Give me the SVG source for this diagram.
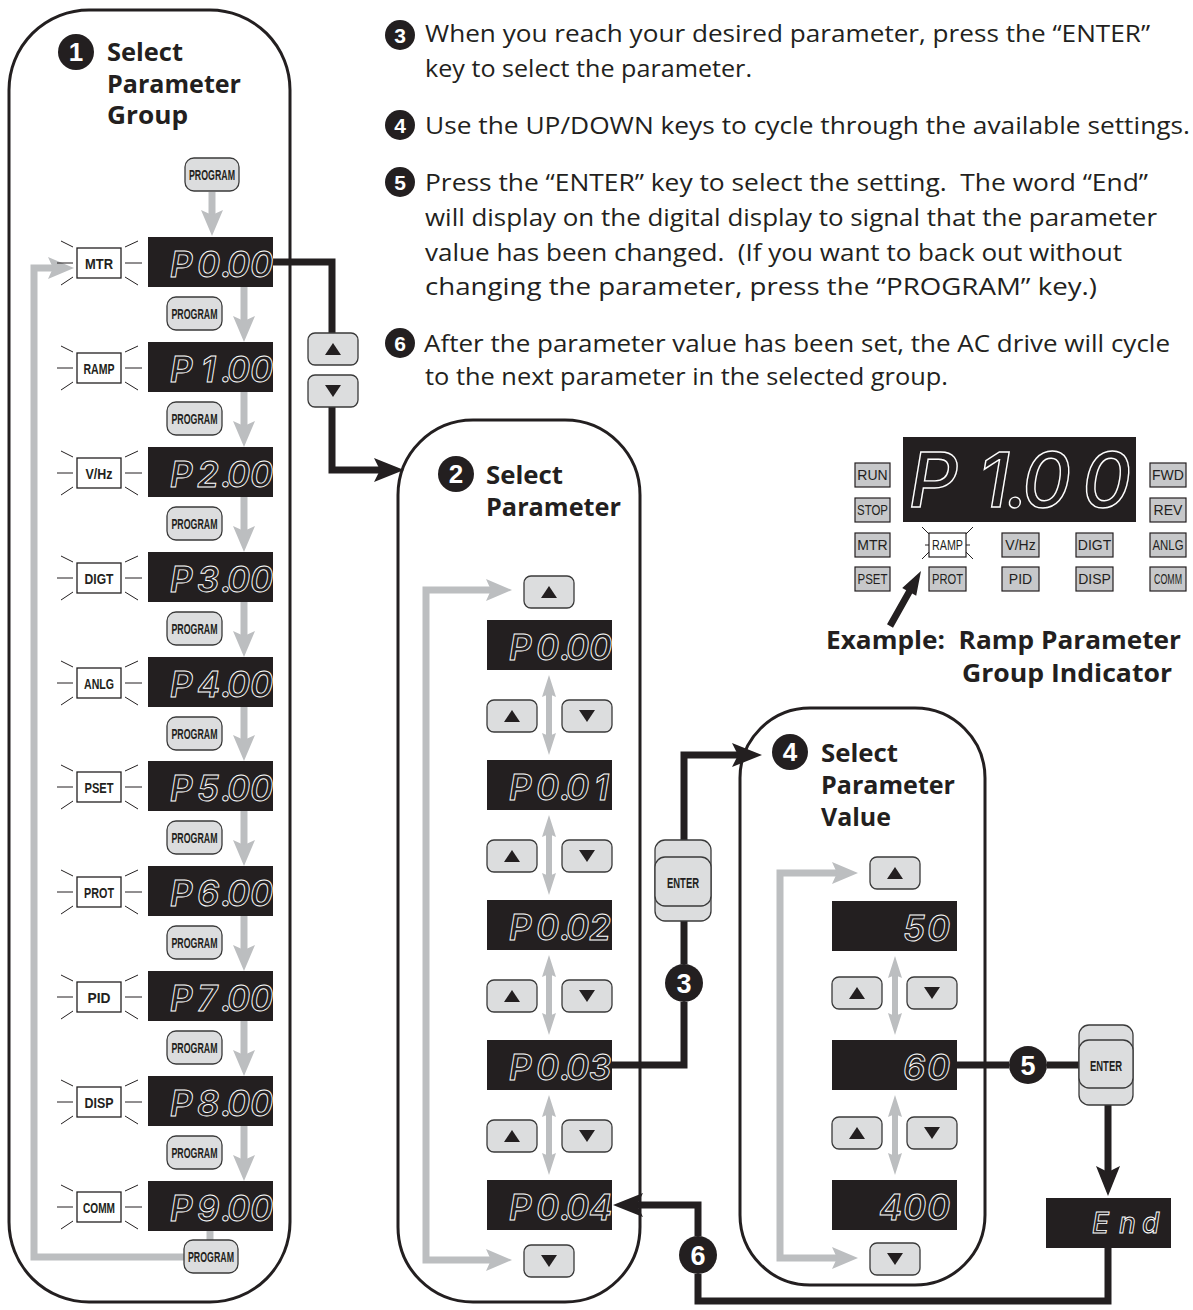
<svg xmlns="http://www.w3.org/2000/svg" xmlns:xlink="http://www.w3.org/1999/xlink" width="1193" height="1310" viewBox="0 0 1193 1310">
<style>
.panel{fill:#fff;stroke:#231f20;stroke-width:3}
.disp{fill:#231f20}
.seg{font-family:Inter,"DejaVu Sans",sans-serif;font-style:italic;font-weight:600;font-size:35px;fill:none;stroke:#fff;stroke-width:0.9}
.btn{fill:#dcddde;stroke:#3a3a3a;stroke-width:1.3}
.btxt{font-family:"Liberation Sans Narrow","Liberation Sans",Arial,sans-serif;font-weight:bold;font-size:14px;fill:#231f20;text-anchor:middle}
.lbl{fill:#fff;stroke:#231f20;stroke-width:1.3}
.ltxt{font-family:"Liberation Sans Narrow","Liberation Sans",Arial,sans-serif;font-weight:bold;font-size:15px;fill:#231f20;text-anchor:middle}
.ind{fill:#c7c8ca;stroke:#231f20;stroke-width:1.2}
.itxt{font-family:"Liberation Sans Narrow","Liberation Sans",Arial,sans-serif;font-size:14px;fill:#231f20;text-anchor:middle}
.ray{stroke:#231f20;stroke-width:1;fill:none}
.gray{stroke:#bcbec0;stroke-width:7;fill:none}
.gray2{stroke:#bcbec0;stroke-width:6;fill:none}
.blk{stroke:#231f20;stroke-width:7;fill:none;stroke-linejoin:miter}
.body{font-family:"Open Sans",Lato,sans-serif;font-size:24px;fill:#231f20;white-space:pre}
.title{font-family:"Open Sans",Lato,sans-serif;font-weight:bold;font-size:25px;fill:#231f20;white-space:pre}
.nc{fill:#231f20}
.nt{font-family:"Liberation Sans",Arial,sans-serif;font-weight:bold;fill:#fff;text-anchor:middle}
</style>
<defs>
<marker id="gh" markerUnits="userSpaceOnUse" markerWidth="28" markerHeight="24" refX="6" refY="12" orient="auto-start-reverse"><path d="M0,1 L26,12 L0,23 L5,12 z" fill="#bcbec0"/></marker>
<marker id="gs" markerUnits="userSpaceOnUse" markerWidth="24" markerHeight="16" refX="4" refY="7" orient="auto-start-reverse"><path d="M0,0 L22,7 L0,14 L3,7 z" fill="#bcbec0"/></marker>
<marker id="bh" markerUnits="userSpaceOnUse" markerWidth="32" markerHeight="26" refX="8" refY="12" orient="auto"><path d="M0,0 L30,12 L0,24 L6,12 z" fill="#231f20"/></marker>
<path id="rays" class="ray" d="M57,0H73 M61,-22L73,-16 M61,22L73,14 M125,0H142 M125,-16L138,-22 M125,14L138,22"/>
<g id="upb"><rect class="btn" x="0" y="0" width="50" height="32" rx="7"/><path d="M17,22 L25,10 L33,22 z" fill="#231f20"/></g>
<g id="dnb"><rect class="btn" x="0" y="0" width="50" height="32" rx="7"/><path d="M17,10 L33,10 L25,22 z" fill="#231f20"/></g>
</defs>

<!-- instructions text -->
<g id="instructions">
<circle class="nc" cx="400" cy="35" r="15"/><text class="nt" x="400" y="43" font-size="21">3</text>
<text class="body" x="425" y="42" textLength="725" lengthAdjust="spacingAndGlyphs">When you reach your desired parameter, press the “ENTER”</text>
<text class="body" x="425" y="77" textLength="327" lengthAdjust="spacingAndGlyphs">key to select the parameter.</text>
<circle class="nc" cx="400" cy="125" r="15"/><text class="nt" x="400" y="133" font-size="21">4</text>
<text class="body" x="425" y="134" textLength="765" lengthAdjust="spacingAndGlyphs">Use the UP/DOWN keys to cycle through the available settings.</text>
<circle class="nc" cx="400" cy="182" r="15"/><text class="nt" x="400" y="190" font-size="21">5</text>
<text class="body" x="425" y="191" textLength="723" lengthAdjust="spacingAndGlyphs">Press the “ENTER” key to select the setting.  The word “End”</text>
<text class="body" x="425" y="226" textLength="732" lengthAdjust="spacingAndGlyphs">will display on the digital display to signal that the parameter</text>
<text class="body" x="425" y="261" textLength="697" lengthAdjust="spacingAndGlyphs">value has been changed.  (If you want to back out without</text>
<text class="body" x="425" y="295" textLength="672" lengthAdjust="spacingAndGlyphs">changing the parameter, press the “PROGRAM” key.)</text>
<circle class="nc" cx="400" cy="343" r="15"/><text class="nt" x="400" y="351" font-size="21">6</text>
<text class="body" x="424" y="352" textLength="746" lengthAdjust="spacingAndGlyphs">After the parameter value has been set, the AC drive will cycle</text>
<text class="body" x="425" y="385" textLength="523" lengthAdjust="spacingAndGlyphs">to the next parameter in the selected group.</text>
</g>

<!-- panels -->
<g id="panel1">
<rect class="panel" x="9" y="10" width="281" height="1292" rx="80"/>
<circle class="nc" cx="76" cy="52" r="18"/><text class="nt" x="76" y="61" font-size="26">1</text>
<text class="title" x="107" y="61" textLength="76" lengthAdjust="spacingAndGlyphs">Select</text>
<text class="title" x="107" y="93" textLength="134" lengthAdjust="spacingAndGlyphs">Parameter</text>
<text class="title" x="107" y="124" textLength="81" lengthAdjust="spacingAndGlyphs">Group</text>
</g>
<g id="panel2">
<rect class="panel" x="398" y="420" width="242" height="882" rx="75"/>
<circle class="nc" cx="456" cy="474" r="18"/><text class="nt" x="456" y="483" font-size="26">2</text>
<text class="title" x="486" y="484" textLength="77" lengthAdjust="spacingAndGlyphs">Select</text>
<text class="title" x="486" y="516" textLength="135" lengthAdjust="spacingAndGlyphs">Parameter</text>
</g>
<g id="panel4">
<rect class="panel" x="740" y="708" width="245" height="577" rx="70"/>
<circle class="nc" cx="790" cy="752" r="18"/><text class="nt" x="790" y="761" font-size="26">4</text>
<text class="title" x="821" y="762" textLength="77" lengthAdjust="spacingAndGlyphs">Select</text>
<text class="title" x="821" y="794" textLength="134" lengthAdjust="spacingAndGlyphs">Parameter</text>
<text class="title" x="821" y="826" textLength="70" lengthAdjust="spacingAndGlyphs">Value</text>
</g>

<!-- connectors -->
<g id="connectors">
<path class="gray" d="M212,192 V216" marker-end="url(#gh)"/>
<path class="gray" d="M244,287 V322" marker-end="url(#gh)"/>
<path class="gray" d="M244,392 V427" marker-end="url(#gh)"/>
<path class="gray" d="M244,497 V532" marker-end="url(#gh)"/>
<path class="gray" d="M244,602 V637" marker-end="url(#gh)"/>
<path class="gray" d="M244,707 V741" marker-end="url(#gh)"/>
<path class="gray" d="M244,811 V846" marker-end="url(#gh)"/>
<path class="gray" d="M244,916 V951" marker-end="url(#gh)"/>
<path class="gray" d="M244,1021 V1056" marker-end="url(#gh)"/>
<path class="gray" d="M244,1126 V1161" marker-end="url(#gh)"/>
<path class="gray" d="M210,1231 V1241"/>
<path class="gray" d="M185,1257 H34 V268 H54" marker-end="url(#gh)"/>

<path class="gray" d="M492,590 H426 V1260 H492" marker-start="url(#gh)" marker-end="url(#gh)"/>
<path class="gray2" d="M549,693 V737" marker-start="url(#gs)" marker-end="url(#gs)"/>
<path class="gray2" d="M549,833 V877" marker-start="url(#gs)" marker-end="url(#gs)"/>
<path class="gray2" d="M549,973 V1017" marker-start="url(#gs)" marker-end="url(#gs)"/>
<path class="gray2" d="M549,1113 V1157" marker-start="url(#gs)" marker-end="url(#gs)"/>

<path class="gray" d="M838,873 H780 V1258 H838" marker-start="url(#gh)" marker-end="url(#gh)"/>
<path class="gray2" d="M895,974 V1017" marker-start="url(#gs)" marker-end="url(#gs)"/>
<path class="gray2" d="M895,1113 V1157" marker-start="url(#gs)" marker-end="url(#gs)"/>

<path class="blk" d="M273,262 H332 V334"/>
<path class="blk" d="M332,406 V470 H382" marker-end="url(#bh)"/>
<path class="blk" d="M612,1065 H684 V1002"/>
<path class="blk" d="M684,964 V921"/>
<path class="blk" d="M684,840 V755 H740" marker-end="url(#bh)"/>
<path class="blk" d="M957,1065 H1009"/>
<path class="blk" d="M1047,1065 H1079"/>
<path class="blk" d="M1108,1105 V1174" marker-end="url(#bh)"/>
<path class="blk" d="M1108,1248 V1301 H698 V1274"/>
<path class="blk" d="M698,1236 V1205 H635" marker-end="url(#bh)"/>
</g>

<!-- panel 1 nodes -->
<g id="prog-top"><rect class="btn" x="185" y="158" width="54" height="33" rx="9"/><text class="btxt" x="212" y="180" textLength="46" lengthAdjust="spacingAndGlyphs">PROGRAM</text></g>
<g id="grp0"><use href="#rays" y="263"/><rect class="lbl" x="77" y="248" width="44" height="30"/><text class="ltxt" x="99" y="269" textLength="28" lengthAdjust="spacingAndGlyphs">MTR</text>
<rect class="disp" x="148" y="237" width="125" height="50"/><text class="seg" x="170 197 221 227 250" y="277">P0.00</text></g>
<g id="prog0"><rect class="btn" x="167" y="297" width="55" height="33" rx="9"/><text class="btxt" x="194.5" y="319" textLength="46" lengthAdjust="spacingAndGlyphs">PROGRAM</text></g>
<g id="grp1"><use href="#rays" y="368"/><rect class="lbl" x="77" y="353" width="44" height="30"/><text class="ltxt" x="99" y="374" textLength="31" lengthAdjust="spacingAndGlyphs">RAMP</text>
<rect class="disp" x="148" y="342" width="125" height="50"/><text class="seg" x="170 201 221 227 250" y="382">P1.00</text></g>
<g id="prog1"><rect class="btn" x="167" y="402" width="55" height="33" rx="9"/><text class="btxt" x="194.5" y="424" textLength="46" lengthAdjust="spacingAndGlyphs">PROGRAM</text></g>
<g id="grp2"><use href="#rays" y="473"/><rect class="lbl" x="77" y="458" width="44" height="30"/><text class="ltxt" x="99" y="479" textLength="27" lengthAdjust="spacingAndGlyphs">V/Hz</text>
<rect class="disp" x="148" y="447" width="125" height="50"/><text class="seg" x="170 197 221 227 250" y="487">P2.00</text></g>
<g id="prog2"><rect class="btn" x="167" y="507" width="55" height="33" rx="9"/><text class="btxt" x="194.5" y="529" textLength="46" lengthAdjust="spacingAndGlyphs">PROGRAM</text></g>
<g id="grp3"><use href="#rays" y="578"/><rect class="lbl" x="77" y="563" width="44" height="30"/><text class="ltxt" x="99" y="584" textLength="29" lengthAdjust="spacingAndGlyphs">DIGT</text>
<rect class="disp" x="148" y="552" width="125" height="50"/><text class="seg" x="170 197 221 227 250" y="592">P3.00</text></g>
<g id="prog3"><rect class="btn" x="167" y="612" width="55" height="33" rx="9"/><text class="btxt" x="194.5" y="634" textLength="46" lengthAdjust="spacingAndGlyphs">PROGRAM</text></g>
<g id="grp4"><use href="#rays" y="683"/><rect class="lbl" x="77" y="668" width="44" height="30"/><text class="ltxt" x="99" y="689" textLength="30" lengthAdjust="spacingAndGlyphs">ANLG</text>
<rect class="disp" x="148" y="657" width="125" height="50"/><text class="seg" x="170 197 221 227 250" y="697">P4.00</text></g>
<g id="prog4"><rect class="btn" x="167" y="717" width="55" height="33" rx="9"/><text class="btxt" x="194.5" y="739" textLength="46" lengthAdjust="spacingAndGlyphs">PROGRAM</text></g>
<g id="grp5"><use href="#rays" y="787"/><rect class="lbl" x="77" y="772" width="44" height="30"/><text class="ltxt" x="99" y="793" textLength="29" lengthAdjust="spacingAndGlyphs">PSET</text>
<rect class="disp" x="148" y="761" width="125" height="50"/><text class="seg" x="170 197 221 227 250" y="801">P5.00</text></g>
<g id="prog5"><rect class="btn" x="167" y="821" width="55" height="33" rx="9"/><text class="btxt" x="194.5" y="843" textLength="46" lengthAdjust="spacingAndGlyphs">PROGRAM</text></g>
<g id="grp6"><use href="#rays" y="892"/><rect class="lbl" x="77" y="877" width="44" height="30"/><text class="ltxt" x="99" y="898" textLength="30" lengthAdjust="spacingAndGlyphs">PROT</text>
<rect class="disp" x="148" y="866" width="125" height="50"/><text class="seg" x="170 197 221 227 250" y="906">P6.00</text></g>
<g id="prog6"><rect class="btn" x="167" y="926" width="55" height="33" rx="9"/><text class="btxt" x="194.5" y="948" textLength="46" lengthAdjust="spacingAndGlyphs">PROGRAM</text></g>
<g id="grp7"><use href="#rays" y="997"/><rect class="lbl" x="77" y="982" width="44" height="30"/><text class="ltxt" x="99" y="1003" textLength="23" lengthAdjust="spacingAndGlyphs">PID</text>
<rect class="disp" x="148" y="971" width="125" height="50"/><text class="seg" x="170 197 221 227 250" y="1011">P7.00</text></g>
<g id="prog7"><rect class="btn" x="167" y="1031" width="55" height="33" rx="9"/><text class="btxt" x="194.5" y="1053" textLength="46" lengthAdjust="spacingAndGlyphs">PROGRAM</text></g>
<g id="grp8"><use href="#rays" y="1102"/><rect class="lbl" x="77" y="1087" width="44" height="30"/><text class="ltxt" x="99" y="1108" textLength="29" lengthAdjust="spacingAndGlyphs">DISP</text>
<rect class="disp" x="148" y="1076" width="125" height="50"/><text class="seg" x="170 197 221 227 250" y="1116">P8.00</text></g>
<g id="prog8"><rect class="btn" x="167" y="1136" width="55" height="33" rx="9"/><text class="btxt" x="194.5" y="1158" textLength="46" lengthAdjust="spacingAndGlyphs">PROGRAM</text></g>
<g id="grp9"><use href="#rays" y="1207"/><rect class="lbl" x="77" y="1192" width="44" height="30"/><text class="ltxt" x="99" y="1213" textLength="32" lengthAdjust="spacingAndGlyphs">COMM</text>
<rect class="disp" x="148" y="1181" width="125" height="50"/><text class="seg" x="170 197 221 227 250" y="1221">P9.00</text></g>
<g id="prog-bottom"><rect class="btn" x="184" y="1240" width="54" height="33" rx="9"/><text class="btxt" x="211" y="1262" textLength="46" lengthAdjust="spacingAndGlyphs">PROGRAM</text></g>

<!-- up/down between panel 1 and 2 -->
<g id="updown-1"><use href="#upb" x="308" y="333"/><use href="#dnb" x="308" y="375"/></g>

<!-- panel 2 nodes -->
<g id="p2-up"><use href="#upb" x="524" y="576"/></g>
<g id="p2-d0"><rect class="disp" x="487" y="620" width="125" height="50"/><text class="seg" x="509 536 560 566 589" y="660">P0.00</text></g>
<g id="p2-ud0"><use href="#upb" x="487" y="700"/><use href="#dnb" x="562" y="700"/></g>
<g id="p2-d1"><rect class="disp" x="487" y="760" width="125" height="50"/><text class="seg" x="509 536 560 566 594" y="800">P0.01</text></g>
<g id="p2-ud1"><use href="#upb" x="487" y="840"/><use href="#dnb" x="562" y="840"/></g>
<g id="p2-d2"><rect class="disp" x="487" y="900" width="125" height="50"/><text class="seg" x="509 536 560 566 589" y="940">P0.02</text></g>
<g id="p2-ud2"><use href="#upb" x="487" y="980"/><use href="#dnb" x="562" y="980"/></g>
<g id="p2-d3"><rect class="disp" x="487" y="1040" width="125" height="50"/><text class="seg" x="509 536 560 566 589" y="1080">P0.03</text></g>
<g id="p2-ud3"><use href="#upb" x="487" y="1120"/><use href="#dnb" x="562" y="1120"/></g>
<g id="p2-d4"><rect class="disp" x="487" y="1180" width="125" height="50"/><text class="seg" x="509 536 560 566 589" y="1220">P0.04</text></g>
<g id="p2-dn"><use href="#dnb" x="524" y="1245"/></g>

<!-- enter 1 and step 3 -->
<g id="enter1"><rect class="btn" x="655" y="840" width="56" height="81" rx="10"/><rect class="btn" x="655" y="857" width="56" height="49" rx="10"/><text class="btxt" x="683" y="888" font-size="15" textLength="32" lengthAdjust="spacingAndGlyphs">ENTER</text></g>
<g id="step3"><circle class="nc" cx="684" cy="983" r="19"/><text class="nt" x="684" y="993" font-size="27">3</text></g>

<!-- panel 4 nodes -->
<g id="p4-up"><use href="#upb" x="870" y="857"/></g>
<g id="p4-d0"><rect class="disp" x="832" y="901" width="125" height="50"/><text class="seg" x="903 927" y="941">50</text></g>
<g id="p4-ud0"><use href="#upb" x="832" y="977"/><use href="#dnb" x="907" y="977"/></g>
<g id="p4-d1"><rect class="disp" x="832" y="1040" width="125" height="50"/><text class="seg" x="903 927" y="1080">60</text></g>
<g id="p4-ud1"><use href="#upb" x="832" y="1117"/><use href="#dnb" x="907" y="1117"/></g>
<g id="p4-d2"><rect class="disp" x="832" y="1180" width="125" height="50"/><text class="seg" x="879 903 927" y="1220">400</text></g>
<g id="p4-dn"><use href="#dnb" x="870" y="1243"/></g>

<!-- step 5, enter 2, End -->
<g id="step5"><circle class="nc" cx="1028" cy="1065" r="19"/><text class="nt" x="1028" y="1075" font-size="27">5</text></g>
<g id="enter2"><rect class="btn" x="1079" y="1025" width="54" height="80" rx="10"/><rect class="btn" x="1079" y="1040" width="54" height="48" rx="10"/><text class="btxt" x="1106" y="1071" font-size="15" textLength="32" lengthAdjust="spacingAndGlyphs">ENTER</text></g>
<g id="end"><rect class="disp" x="1046" y="1198" width="125" height="50"/><text class="seg" style="font-size:28px;font-weight:500" x="1092 1119 1142" y="1233">End</text></g>
<g id="step6"><circle class="nc" cx="698" cy="1255" r="19"/><text class="nt" x="698" y="1265" font-size="27">6</text></g>

<!-- example indicator -->
<g id="example">
<rect class="disp" x="903" y="437" width="233" height="85"/>
<text class="seg" style="font-size:76px;font-weight:500;stroke-width:1.4" x="909 978 1006 1022 1082" y="507">P1.00</text>
<rect class="ind" x="855" y="463" width="35" height="24"/><text class="itxt" x="872.5" y="480">RUN</text>
<rect class="ind" x="855" y="498" width="35" height="24"/><text class="itxt" x="872.5" y="515" textLength="31" lengthAdjust="spacingAndGlyphs">STOP</text>
<rect class="ind" x="855" y="533" width="35" height="24"/><text class="itxt" x="872.5" y="550">MTR</text>
<rect class="ind" x="855" y="567" width="35" height="24"/><text class="itxt" x="872.5" y="584" textLength="30" lengthAdjust="spacingAndGlyphs">PSET</text>
<path class="ray" d="M922,527L929,534 M973,527L966,534 M922,559L929,552 M973,559L966,552 M925,545H929 M966,545H970"/>
<rect x="929" y="533" width="37" height="24" fill="#fff" stroke="#231f20" stroke-width="1.2"/><text class="itxt" x="947.5" y="550" textLength="31" lengthAdjust="spacingAndGlyphs">RAMP</text>
<rect class="ind" x="929" y="567" width="37" height="24"/><text class="itxt" x="947.5" y="584" textLength="31" lengthAdjust="spacingAndGlyphs">PROT</text>
<rect class="ind" x="1002" y="533" width="37" height="24"/><text class="itxt" x="1020.5" y="550">V/Hz</text>
<rect class="ind" x="1002" y="567" width="37" height="24"/><text class="itxt" x="1020.5" y="584">PID</text>
<rect class="ind" x="1076" y="533" width="37" height="24"/><text class="itxt" x="1094.5" y="550">DIGT</text>
<rect class="ind" x="1076" y="567" width="37" height="24"/><text class="itxt" x="1094.5" y="584">DISP</text>
<rect class="ind" x="1150" y="463" width="36" height="24"/><text class="itxt" x="1168" y="480">FWD</text>
<rect class="ind" x="1150" y="498" width="36" height="24"/><text class="itxt" x="1168" y="515">REV</text>
<rect class="ind" x="1150" y="533" width="36" height="24"/><text class="itxt" x="1168" y="550" textLength="31" lengthAdjust="spacingAndGlyphs">ANLG</text>
<rect class="ind" x="1150" y="567" width="36" height="24"/><text class="itxt" x="1168" y="584" font-size="13" textLength="28" lengthAdjust="spacingAndGlyphs">COMM</text>
<polygon fill="#231f20" points="887,624.3 906.2,590.2 902.2,588 921,571 916.2,595.8 912.2,593.6 893,627.7"/>
<text class="title" x="826" y="649" textLength="355" lengthAdjust="spacingAndGlyphs">Example:  Ramp Parameter</text>
<text class="title" x="962" y="682" textLength="210" lengthAdjust="spacingAndGlyphs">Group Indicator</text>
</g>
</svg>
